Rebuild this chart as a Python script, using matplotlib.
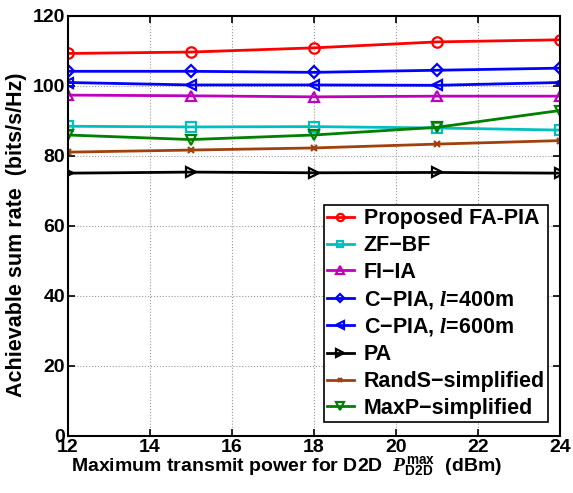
import matplotlib
matplotlib.use("Agg")
import matplotlib.pyplot as plt
import numpy as np

plt.rcParams["font.family"] = ["Liberation Sans", "DejaVu Sans"]
plt.rcParams["font.weight"] = "bold"
plt.rcParams["mathtext.fontset"] = "custom"
plt.rcParams["mathtext.rm"] = "Liberation Sans:bold"
plt.rcParams["mathtext.bf"] = "Liberation Sans:bold"
plt.rcParams["mathtext.it"] = "Liberation Serif:italic"

power = [12, 15, 18, 21, 24]
proposed = [109.3, 109.7, 110.9, 112.6, 113.2]
zfbf = [88.5, 88.3, 88.4, 88.0, 87.4]
fiia = [97.4, 97.2, 96.9, 97.1, 97.1]
cpia400 = [104.2, 104.2, 103.9, 104.5, 105.1]
cpia600 = [101.0, 100.3, 100.3, 100.2, 101.0]
pa = [75.1, 75.4, 75.2, 75.3, 75.1]
rands = [81.1, 81.7, 82.3, 83.4, 84.4]
maxp = [86.0, 84.7, 86.0, 88.2, 93.0]

series = [
    (proposed, "r", "o", "Proposed FA-PIA"),
    (zfbf, "c", "s", "ZF\u2212BF"),
    (fiia, "m", "^", "FI\u2212IA"),
    (cpia400, "b", "D", "C\u2212PIA, $\\mathit{l}$=400m"),
    (cpia600, "b", "<", "C\u2212PIA, $\\mathit{l}$=600m"),
    (pa, "k", ">", "PA"),
    (rands, "#a0410d", "x", "RandS\u2212simplified"),
    (maxp, "#007f00", "v", "MaxP\u2212simplified"),
]

fig = plt.figure(figsize=(5.73, 4.93), dpi=100)
ax = fig.add_axes([68 / 573, 57 / 493, 492 / 573, 420 / 493])

for vals, c, m, lab in series:
    ms = {"D": 6, "s": 6.5, "x": 5}.get(m, 7.5)
    ax.plot(power, vals, color=c, marker=m, markersize=ms, markerfacecolor="none",
            markeredgewidth=1.6, linewidth=2, label=lab)

ax.set_xlim(12, 24)
ax.set_ylim(0, 120)
ax.set_xticks(np.arange(12, 25, 2))
ax.set_yticks(np.arange(0, 121, 20))
ax.grid(True, linestyle=":", color="0.6", linewidth=0.8)
ax.tick_params(direction="in", top=True, right=True, labelsize=14, width=1.2, length=5, pad=2)
for s in ax.spines.values():
    s.set_linewidth(1.5)

ax.set_xlabel(r"Maximum transmit power for D2D  $\mathit{P}_{\mathrm{D2D}}^{\mathrm{max}}$  (dBm)",
              fontsize=14, fontweight="bold")
ax.xaxis.set_label_coords(0.445, -0.045)
ax.set_ylabel("Achievable sum rate  (bits/s/Hz)", fontsize=15.5, fontweight="bold")
ax.yaxis.set_label_coords(-0.083, 0.479)

leg = ax.legend(loc="lower right", bbox_to_anchor=(0.9756, 0.033), fontsize=15.5,
                handlelength=1.25, handletextpad=0.45, borderpad=0.15, labelspacing=0.27,
                fancybox=False, framealpha=1, edgecolor="k", borderaxespad=0,
                markerscale=0.7)
leg.get_frame().set_linewidth(1.2)

fig.savefig("out.png", dpi=100)
plt.close(fig)
